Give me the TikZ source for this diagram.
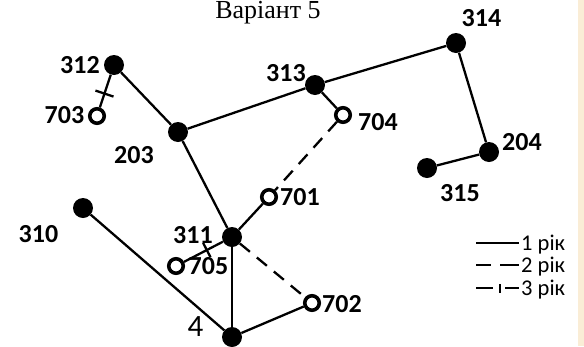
\documentclass[tikz,border=0pt]{standalone}
\usepackage{fontspec}
\setmainfont{Liberation Serif}
\newfontfamily\lblfont{Carlito}
\usetikzlibrary{calc}
\definecolor{edgebeige}{RGB}{250,237,214}

\begin{document}
\begin{tikzpicture}[x=1pt,y=-1pt,
  dot/.style={circle,fill=black,inner sep=0pt,minimum size=20pt},
  ring/.style={circle,draw=black,line width=3.6pt,fill=white,inner sep=0pt,minimum size=14.5pt},
  num/.style={font=\lblfont\bfseries\fontsize{26}{26}\selectfont,inner sep=0pt},
  legtext/.style={font=\lblfont\fontsize{22.5}{22.5}\selectfont,inner sep=0pt,anchor=base west},
  yr1/.style={line width=2.3pt},
  yr2/.style={line width=2.3pt,dash pattern=on 13pt off 9pt},
  tickmark/.style={line width=2.3pt}
]
\useasboundingbox (0,0) rectangle (584,346);
\fill[edgebeige] (578,0) rectangle (584,346);

% title
\node[font=\fontsize{26}{26}\selectfont,anchor=base,inner sep=0pt] (title) at (268,18.5) {Варіант 5};

% substations
\node[dot] (n312) at (114,65) {};
\node[dot] (n203) at (178,132) {};
\node[dot] (n313) at (315,85) {};
\node[dot] (n314) at (456,43) {};
\node[dot] (n204) at (489,152) {};
\node[dot] (n315) at (427,168) {};
\node[dot] (n310) at (83,208) {};
\node[dot] (n311) at (232,237) {};
\node[dot] (n4)   at (232,337) {};

% new consumers
\node[ring] (n703) at (97,116) {};
\node[ring] (n704) at (343,115) {};
\node[ring] (n701) at (269,197) {};
\node[ring] (n705) at (176,266) {};
\node[ring] (n702) at (312,303) {};

% labels
\node[num] (l312) at (80,65) {312};
\node[num] (l703) at (64.5,115) {703};
\node[num] (l203) at (134,155) {203};
\node[num] (l313) at (286,73) {313};
\node[num] (l314) at (481.5,18.5) {314};
\node[num] (l704) at (378,122) {704};
\node[num] (l204) at (522,142) {204};
\node[num] (l315) at (460,193) {315};
\node[num] (l701) at (300,197) {701};
\node[num] (l702) at (342,304) {702};
\node[num] (l310) at (38.5,234) {310};
\node[num] (l311) at (193,235) {311};
\node[num] (l705) at (208.5,266) {705};
\node[font=\lblfont\fontsize{31}{31}\selectfont,inner sep=0pt] (l4) at (195.5,327) {4};

% first-year lines
\draw[yr1] (n312) -- (n203);
\draw[yr1] (n203) -- (n313);
\draw[yr1] (n313) -- (n314);
\draw[yr1] (n314) -- (n204);
\draw[yr1] (n204) -- (n315);
\draw[yr1] (n203) -- (n311);
\draw[yr1] (n313) -- (n704);
\draw[yr1] (n311) -- (n701);
\draw[yr1] (n310) -- (n4);
\draw[yr1] (n311) -- (n4);
\draw[yr1] (n4) -- (n702);

% second-year lines
\draw[yr2] (n704) -- (n701);
\draw[yr2] (n311) -- (n702);

% third-year lines (with a cross tick)
\draw[yr1] (n312) -- (n703);
\coordinate (m1) at ($(n312)!0.56!(n703)$);
\draw[tickmark] ($(m1)!9.5pt!90:(n703)$) -- ($(m1)!9.5pt!-90:(n703)$);
\draw[yr1] (n311) -- (n705);
\coordinate (m2) at ($(n311)!0.45!(n705)$);
\draw[tickmark] ($(m2)!8pt!90:(n705)$) -- ($(m2)!8pt!-90:(n705)$);

% legend
\coordinate (a1) at (476,243); \coordinate (b1) at (519,243);
\draw[yr1] (a1) -- (b1);
\node[legtext] (t1) at (521,250) {1 рік};
\coordinate (a2) at (476,265); \coordinate (b2) at (491,265);
\coordinate (c2) at (500,265); \coordinate (d2) at (519,265);
\draw[yr1] (a2) -- (b2);
\draw[yr1] (c2) -- (d2);
\node[legtext] (t2) at (521,272) {2 рік};
\coordinate (a3) at (476,288); \coordinate (b3) at (493,288);
\coordinate (c3) at (505,288); \coordinate (d3) at (519,288);
\coordinate (e3) at (500,284); \coordinate (f3) at (500,293);
\draw[yr1] (a3) -- (b3);
\draw[yr1] (c3) -- (d3);
\draw[tickmark] (e3) -- (f3);
\node[legtext] (t3) at (521,295) {3 рік};
\end{tikzpicture}
\end{document}
